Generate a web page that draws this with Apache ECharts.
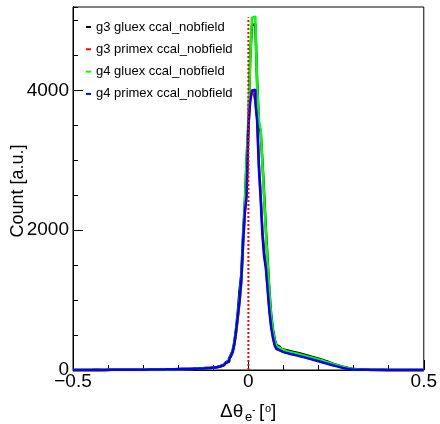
<!DOCTYPE html>
<html><head><meta charset="utf-8">
<script src="https://cdn.jsdelivr.net/npm/echarts@6/dist/echarts.min.js"></script>
<style>html,body{margin:0;padding:0;background:#fff}#c{width:440px;height:424px}</style>
</head><body><div id="c"></div>
<script>
// Histogram binning: 200 bins from -0.5 to 0.5
const binMin = -0.5, binWidth = 0.005;
const names = ['g3 gluex ccal_nobfield','g3 primex ccal_nobfield','g4 gluex ccal_nobfield','g4 primex ccal_nobfield'];

const g3Gluex = [
0,1,1,0,1,1,0,1,1,1, 1,2,1,1,2,1,2,1,2,2, 2,3,2,2,3,3,2,3,3,3, 4,3,4,4,4,5,4,5,5,5,
6,5,6,6,7,6,7,7,8,8, 8,9,9,10,10,11,11,12,12,13, 13,14,14,15,16,16,17,18,19,20, 21,22,23,25,26,28,29,31,34,37,
40,44,50,57,65,76,90,108,135,170, 215,280,400,600,840,1150,1380,1950,2400,3000,
3520,4450,4930,4950,4920,4100,3520,3400,2980,2500, 2000,1550,1120,790,580,440,355,330,312,300,
288,281,275,269,263,257,251,245,239,233, 226,219,212,205,198,191,184,176,169,162,
154,146,138,130,121,112,103,94,85,76, 68,60,52,45,39,33,28,23,19,16,
13,11,9,8,7,6,5,4,4,3, 3,3,2,2,2,1,2,1,1,1, 1,1,0,1,1,0,1,0,1,0, 1,0,0,1,0,0,1,0,0,0];

const g3Primex = [
1,0,1,1,0,1,1,0,1,1, 1,1,2,1,1,2,1,1,2,2, 2,2,3,2,2,3,2,3,3,3, 3,4,3,4,4,4,5,4,5,5,
5,6,6,5,6,7,6,7,7,8, 8,8,9,9,10,10,11,11,12,12, 13,13,14,14,15,16,16,17,18,19, 20,21,22,24,25,27,28,30,32,35,
35,39,44,51,59,69,82,99,122,158, 200,262,375,545,760,990,1280,1800,2280,2550,
3450,3900,3980,3950,3850,3600,2950,2500,2000,1680, 1480,1180,860,640,480,365,300,282,270,262,
255,249,243,237,231,225,219,213,207,201, 195,188,181,174,167,160,153,146,139,132,
125,118,111,104,97,90,83,76,69,62, 55,48,42,36,30,25,20,16,13,10,
8,7,6,5,4,3,3,2,2,2, 2,2,1,1,2,1,1,1,0,1, 1,0,1,1,0,1,0,0,1,0, 0,1,0,0,1,0,0,0,1,0];

const g4Gluex = [
1,0,1,1,0,1,1,1,0,1, 1,1,2,1,1,2,1,2,2,1, 2,2,2,3,2,2,3,3,2,3, 3,3,4,3,4,4,4,5,4,5,
5,5,6,5,6,6,7,6,7,7, 8,7,8,8,9,9,10,10,11,11, 12,12,13,13,14,15,15,16,17,18, 19,20,21,22,23,25,26,28,30,33,
36,40,45,52,60,70,82,100,125,160, 200,260,380,560,780,1020,1320,1880,2360,3040,
3570,4410,5040,5060,5010,4050,3550,3450,2950,2450, 1950,1500,1100,760,560,420,340,315,300,288,
275,268,262,256,250,244,238,232,226,220, 213,206,199,192,185,178,171,164,157,150,
143,136,128,120,112,104,96,88,80,72, 64,56,49,42,36,30,25,21,17,14,
12,10,8,7,6,5,4,4,3,3, 3,2,2,2,2,1,2,1,1,1, 1,1,1,0,1,1,0,1,0,1, 0,1,0,0,1,0,0,1,0,0];

const g4Primex = [
1,1,0,1,1,1,0,1,1,1, 1,1,1,2,1,1,2,1,2,1, 2,2,2,2,3,2,2,3,3,2, 3,3,3,4,3,4,4,4,5,4,
5,5,5,6,6,6,6,7,7,7, 8,8,8,9,9,10,10,10,11,12, 12,13,13,14,14,15,16,16,17,18, 19,20,21,23,24,26,27,29,31,33,
34,38,43,50,58,68,80,97,120,155, 195,255,370,550,770,1000,1300,1850,2250,2500,
3500,3830,4000,4010,3830,3560,2880,2450,1930,1620, 1450,1140,830,610,460,350,305,280,266,256,
248,242,236,230,224,218,212,206,200,194, 188,181,174,167,160,153,146,139,132,125,
118,111,104,97,90,83,76,69,62,55, 48,41,35,29,24,19,15,12,9,7,
6,5,4,3,3,2,2,2,1,1, 1,1,1,1,0,1,1,0,1,1, 0,1,0,1,0,0,1,0,1,0, 0,0,1,0,0,1,0,0,0,1];

// red dashed marker line at Δθ = 0
const cutLine = [[0, 0], [0, 5050]];

const yMin = 0, yMax = 5195;
const xMin = -0.5, xMax = 0.5;

function toSteps(vals) {
  const pts = vals.map((v, i) => [+(binMin + i * binWidth).toFixed(4), v]);
  pts.push([+(binMin + vals.length * binWidth).toFixed(4), vals[vals.length - 1]]);
  return pts;
}

const FONT = '"Liberation Sans", Arial, Helvetica, sans-serif';
const colors = ['#000000', '#ff0000', '#00ff00', '#0000ff'];
const all = [g3Gluex, g3Primex, g4Gluex, g4Primex];

const chart = echarts.init(document.getElementById('c'), null, {renderer: 'canvas'});
const histSeries = all.map((vals, i) => ({
  name: names[i], type: 'line', step: 'end', data: toSteps(vals),
  symbol: 'none', showSymbol: false, clip: false, yAxisIndex: 0,
  lineStyle: {color: colors[i], width: 2.5},
  itemStyle: {color: colors[i]},
  emphasis: {disabled: true}
}));
histSeries.push({
  name: 'cut', type: 'line', data: cutLine, symbol: 'none', showSymbol: false, yAxisIndex: 0,
  lineStyle: {color: '#ff0000', width: 2, type: [2, 2]}, emphasis: {disabled: true}
});

chart.setOption({
  animation: false,
  grid: {left: 73, right: 16, top: 7, bottom: 54, show: true, borderColor: '#000', borderWidth: 1},
  xAxis: {
    type: 'value', min: xMin, max: xMax, interval: 0.5,
    axisLine: {show: true, onZero: false, lineStyle: {color: '#000', width: 1}},
    axisTick: {show: true, inside: true, length: 10, lineStyle: {color: '#000'}},
    minorTick: {show: true, splitNumber: 5, length: 5, lineStyle: {color: '#000'}},
    splitLine: {show: false},
    axisLabel: {fontFamily: FONT, fontSize: 19, color: '#000', margin: 2,
      formatter: v => v < 0 ? '\u2212' + Math.abs(v) : String(v)}
  },
  yAxis: [{
    type: 'value', min: yMin, max: yMax, interval: 500, position: 'left',
    axisLine: {show: true, onZero: false, lineStyle: {color: '#000', width: 1}},
    axisTick: {show: true, inside: true, length: 5, lineStyle: {color: '#000'}},
    axisLabel: {show: false}, splitLine: {show: false}
  }, {
    type: 'value', min: yMin, max: yMax, interval: 2000, position: 'left',
    axisLine: {show: true, onZero: false, lineStyle: {color: '#000', width: 1}},
    axisTick: {show: true, inside: true, length: 10, lineStyle: {color: '#000'}},
    axisLabel: {fontFamily: FONT, fontSize: 19, color: '#000', margin: 4, showMaxLabel: false,
      formatter: v => String(v)},
    splitLine: {show: false}
  }],
  legend: {
    orient: 'vertical', left: 86, top: 20, padding: 0, itemWidth: 5, itemHeight: 2, itemGap: 8.3,
    icon: 'rect', data: names, selectedMode: false,
    textStyle: {fontFamily: FONT, fontSize: 13, color: '#000', lineHeight: 14}
  },
  graphic: [
    {type: 'text', x: 18, y: 191, rotation: Math.PI / 2,
      style: {text: 'Count [a.u.]', font: '18px ' + FONT, fill: '#000', align: 'center', verticalAlign: 'middle'}},
    {type: 'text', x: 220, y: 421, style: {text: '\u0394\u03b8', font: '19px ' + FONT, fill: '#000', align: 'left', verticalAlign: 'bottom'}},
    {type: 'text', x: 245, y: 424, style: {text: 'e', font: '13px ' + FONT, fill: '#000', align: 'left', verticalAlign: 'bottom'}},
    {type: 'text', x: 252, y: 415, style: {text: '-', font: '10px ' + FONT, fill: '#000', align: 'left', verticalAlign: 'bottom'}},
    {type: 'text', x: 259, y: 421, style: {text: '[', font: '19px ' + FONT, fill: '#000', align: 'left', verticalAlign: 'bottom'}},
    {type: 'text', x: 265, y: 414, style: {text: 'o', font: '11px ' + FONT, fill: '#000', align: 'left', verticalAlign: 'bottom'}},
    {type: 'text', x: 271, y: 421, style: {text: ']', font: '19px ' + FONT, fill: '#000', align: 'left', verticalAlign: 'bottom'}}
  ],
  series: histSeries
});
</script></body></html>
